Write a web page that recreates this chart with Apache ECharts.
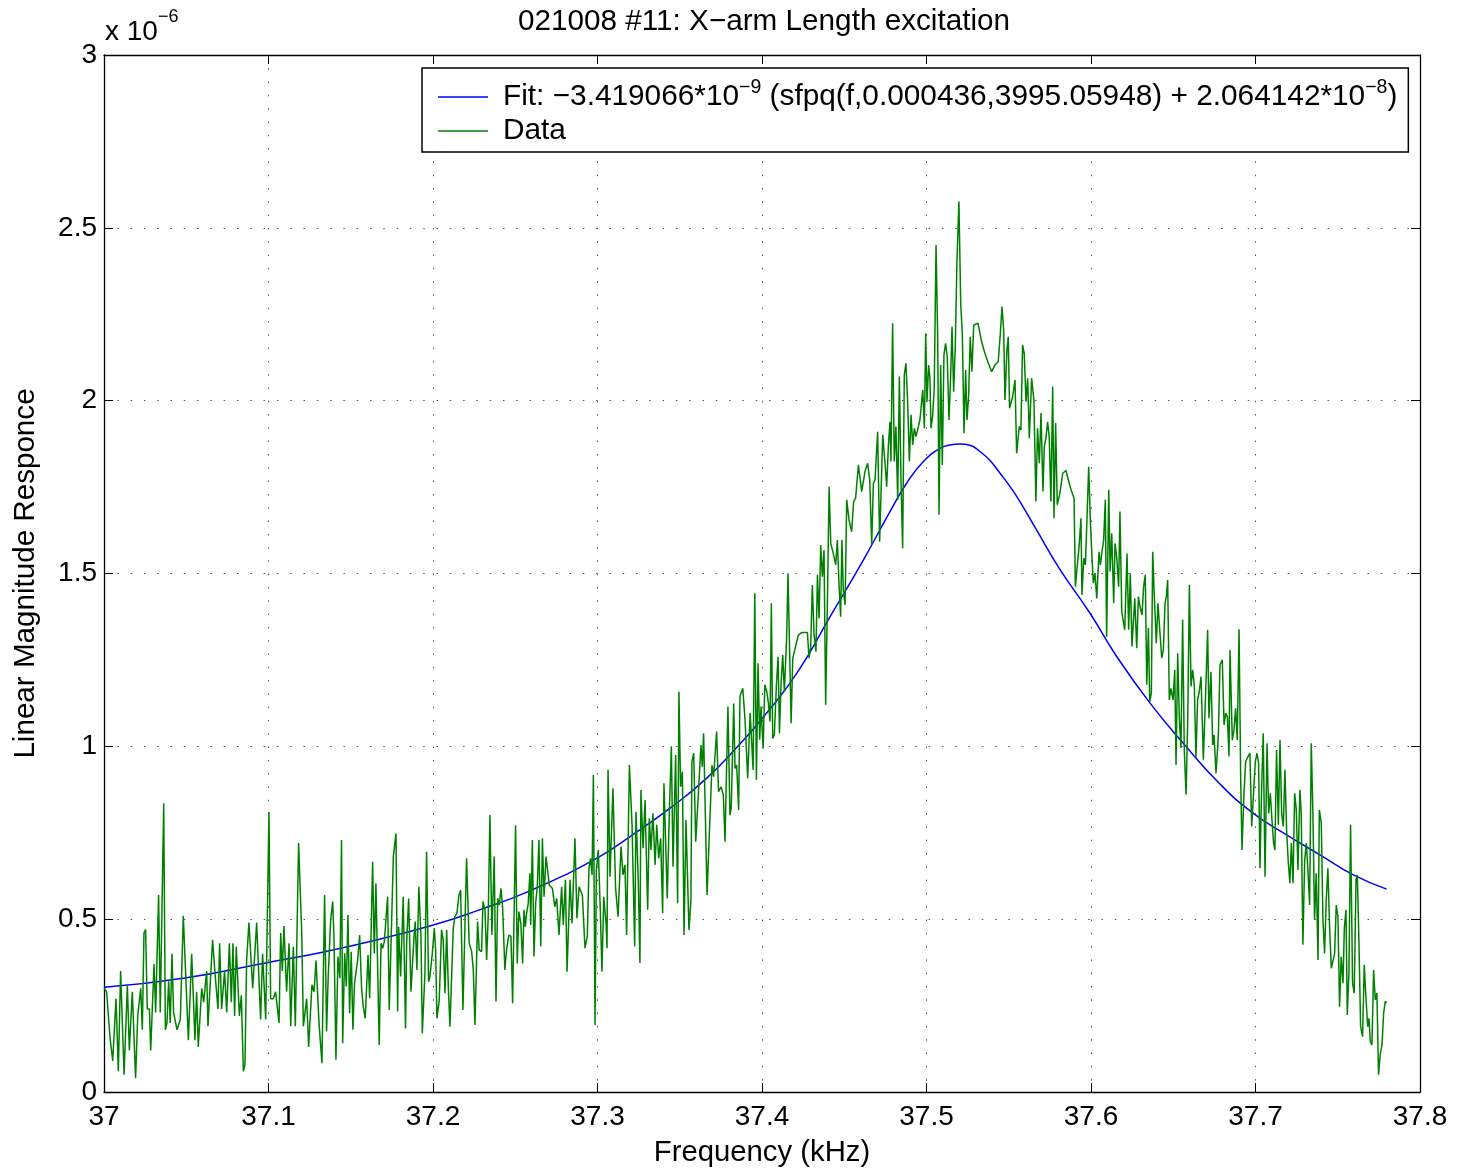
<!DOCTYPE html>
<html>
<head>
<meta charset="utf-8">
<title>021008 #11: X−arm Length excitation</title>
<script src="https://cdn.jsdelivr.net/npm/echarts@6/dist/echarts.min.js"></script>
<style>
  html, body { margin: 0; padding: 0; background: #fff; }
  #chart { width: 1459px; height: 1175px; }
</style>
</head>
<body>
<div id="chart"></div>
<script>
// Axis tick labels (x in kHz, y in units of 1e-6)
const xTickLabels = ['37', '37.1', '37.2', '37.3', '37.4', '37.5', '37.6', '37.7', '37.8'];
const yTickLabels = ['0', '0.5', '1', '1.5', '2', '2.5', '3'];

// Measured response: frequency (kHz) and linear magnitude (x 1e-6)
const dataFreq = [
  37.0000, 37.0016, 37.0036, 37.0053, 37.0073, 37.0087, 37.0101, 37.0113, 37.0122, 37.0142,
  37.0154, 37.0172, 37.0192, 37.0205, 37.0223, 37.0233, 37.0243, 37.0253, 37.0263, 37.0276,
  37.0284, 37.0304, 37.0314, 37.0332, 37.0342, 37.0363, 37.0373, 37.0383, 37.0393, 37.0403,
  37.0413, 37.0423, 37.0444, 37.0464, 37.0482, 37.0494, 37.0513, 37.0533, 37.0553, 37.0563,
  37.0573, 37.0594, 37.0606, 37.0624, 37.0632, 37.0660, 37.0677, 37.0693, 37.0703, 37.0715,
  37.0733, 37.0746, 37.0762, 37.0774, 37.0784, 37.0794, 37.0804, 37.0823, 37.0835, 37.0847,
  37.0857, 37.0867, 37.0881, 37.0904, 37.0928, 37.0952, 37.0964, 37.0983, 37.1003, 37.1013,
  37.1029, 37.1043, 37.1064, 37.1074, 37.1084, 37.1094, 37.1110, 37.1125, 37.1135, 37.1151,
  37.1163, 37.1183, 37.1202, 37.1212, 37.1232, 37.1244, 37.1264, 37.1277, 37.1289, 37.1307,
  37.1325, 37.1341, 37.1353, 37.1363, 37.1378, 37.1390, 37.1398, 37.1410, 37.1422, 37.1434,
  37.1444, 37.1451, 37.1463, 37.1473, 37.1483, 37.1493, 37.1503, 37.1513, 37.1523, 37.1542,
  37.1554, 37.1566, 37.1576, 37.1588, 37.1605, 37.1615, 37.1633, 37.1643, 37.1653, 37.1673,
  37.1684, 37.1694, 37.1704, 37.1714, 37.1724, 37.1734, 37.1746, 37.1759, 37.1775, 37.1785,
  37.1791, 37.1803, 37.1819, 37.1833, 37.1840, 37.1852, 37.1866, 37.1884, 37.1892, 37.1902,
  37.1914, 37.1927, 37.1935, 37.1951, 37.1961, 37.1973, 37.1981, 37.1996, 37.2008, 37.2016,
  37.2024, 37.2038, 37.2052, 37.2062, 37.2073, 37.2083, 37.2093, 37.2103, 37.2123, 37.2133,
  37.2145, 37.2158, 37.2168, 37.2182, 37.2192, 37.2204, 37.2220, 37.2235, 37.2245, 37.2255,
  37.2271, 37.2281, 37.2295, 37.2304, 37.2316, 37.2326, 37.2336, 37.2346, 37.2358, 37.2372,
  37.2383, 37.2393, 37.2403, 37.2413, 37.2423, 37.2437, 37.2447, 37.2461, 37.2474, 37.2484,
  37.2502, 37.2512, 37.2522, 37.2534, 37.2545, 37.2553, 37.2561, 37.2569, 37.2579, 37.2589,
  37.2594, 37.2604, 37.2614, 37.2624, 37.2634, 37.2644, 37.2655, 37.2665, 37.2675, 37.2687,
  37.2707, 37.2726, 37.2740, 37.2752, 37.2766, 37.2782, 37.2792, 37.2805, 37.2815, 37.2833,
  37.2845, 37.2863, 37.2875, 37.2888, 37.2908, 37.2924, 37.2938, 37.2948, 37.2958, 37.2967,
  37.2975, 37.2985, 37.2993, 37.3005, 37.3017, 37.3027, 37.3038, 37.3052, 37.3058, 37.3064,
  37.3076, 37.3094, 37.3110, 37.3125, 37.3143, 37.3155, 37.3167, 37.3177, 37.3194, 37.3210,
  37.3226, 37.3234, 37.3248, 37.3258, 37.3264, 37.3277, 37.3289, 37.3305, 37.3315, 37.3325,
  37.3337, 37.3350, 37.3360, 37.3372, 37.3384, 37.3396, 37.3404, 37.3424, 37.3437, 37.3449,
  37.3459, 37.3475, 37.3487, 37.3495, 37.3505, 37.3516, 37.3526, 37.3538, 37.3556, 37.3568,
  37.3574, 37.3585, 37.3597, 37.3609, 37.3629, 37.3637, 37.3645, 37.3666, 37.3680, 37.3696,
  37.3706, 37.3724, 37.3736, 37.3751, 37.3765, 37.3775, 37.3793, 37.3805, 37.3813, 37.3828,
  37.3836, 37.3846, 37.3858, 37.3866,
  37.3883, 37.3897, 37.3913, 37.3928, 37.3936, 37.3946, 37.3956, 37.3966, 37.3976, 37.3986,
  37.3994, 37.4007, 37.4017, 37.4029, 37.4039, 37.4049, 37.4057, 37.4065, 37.4075, 37.4088,
  37.4098, 37.4106, 37.4116, 37.4126, 37.4136, 37.4150, 37.4158, 37.4166, 37.4177, 37.4187,
  37.4197, 37.4221, 37.4241, 37.4276, 37.4286, 37.4296, 37.4306, 37.4316, 37.4328, 37.4337,
  37.4347, 37.4357, 37.4367, 37.4377, 37.4387, 37.4397, 37.4408, 37.4418, 37.4428, 37.4438,
  37.4448, 37.4458, 37.4468, 37.4478, 37.4486, 37.4494, 37.4505, 37.4515,
  37.4529, 37.4545, 37.4557, 37.4569, 37.4586, 37.4606, 37.4626, 37.4642, 37.4655, 37.4667,
  37.4677, 37.4687, 37.4703, 37.4715, 37.4734, 37.4748, 37.4758, 37.4768,
  37.4778, 37.4784, 37.4794, 37.4804, 37.4814, 37.4825, 37.4835, 37.4845, 37.4855, 37.4865,
  37.4875, 37.4885, 37.4896, 37.4906, 37.4916, 37.4926, 37.4936, 37.4948, 37.4960, 37.4977,
  37.4987, 37.4995, 37.5003, 37.5013, 37.5021, 37.5027, 37.5037, 37.5047, 37.5058, 37.5068,
  37.5076, 37.5086, 37.5096, 37.5106, 37.5116, 37.5126, 37.5137, 37.5147, 37.5155, 37.5165,
  37.5175, 37.5185, 37.5197, 37.5208, 37.5218, 37.5228, 37.5238, 37.5246, 37.5256, 37.5266,
  37.5276, 37.5287, 37.5297, 37.5313, 37.5335, 37.5355, 37.5376, 37.5396, 37.5416, 37.5436,
  37.5449, 37.5459, 37.5469, 37.5477, 37.5489, 37.5497, 37.5505, 37.5524, 37.5538, 37.5548,
  37.5564, 37.5574, 37.5584, 37.5594, 37.5605, 37.5615, 37.5625, 37.5639, 37.5653, 37.5665,
  37.5675, 37.5686, 37.5696, 37.5708, 37.5716, 37.5726, 37.5736, 37.5746, 37.5756, 37.5767,
  37.5775, 37.5785, 37.5795, 37.5811,
  37.5828, 37.5848, 37.5862, 37.5879, 37.5897, 37.5905, 37.5917, 37.5929, 37.5939, 37.5945,
  37.5956, 37.5966, 37.5974, 37.5986, 37.5996, 37.6004, 37.6014, 37.6024, 37.6035, 37.6049,
  37.6057, 37.6067, 37.6077, 37.6087, 37.6095, 37.6108, 37.6116, 37.6126, 37.6138, 37.6146,
  37.6156, 37.6168, 37.6176, 37.6187, 37.6205, 37.6219, 37.6229, 37.6239, 37.6249, 37.6266,
  37.6278, 37.6288, 37.6298, 37.6310, 37.6320, 37.6330, 37.6339, 37.6349, 37.6357, 37.6367,
  37.6375, 37.6385, 37.6397, 37.6407, 37.6418, 37.6430, 37.6440, 37.6450, 37.6458, 37.6466,
  37.6476, 37.6486, 37.6499, 37.6509, 37.6517, 37.6527, 37.6537, 37.6547, 37.6557, 37.6567,
  37.6578, 37.6588, 37.6598, 37.6608, 37.6618, 37.6628, 37.6638, 37.6648, 37.6658, 37.6669,
  37.6683, 37.6699, 37.6709, 37.6717, 37.6729, 37.6740, 37.6748, 37.6760, 37.6774, 37.6784,
  37.6798, 37.6809, 37.6819, 37.6829, 37.6839, 37.6845,
  37.6859, 37.6869, 37.6879, 37.6889, 37.6900, 37.6910, 37.6918, 37.6930, 37.6940, 37.6954,
  37.6966, 37.6977, 37.6989, 37.6999, 37.7009, 37.7019, 37.7027, 37.7037, 37.7047, 37.7058,
  37.7070, 37.7080, 37.7090, 37.7100, 37.7110, 37.7118, 37.7128, 37.7139, 37.7149, 37.7159,
  37.7169, 37.7179, 37.7189, 37.7199, 37.7209, 37.7218, 37.7228, 37.7238, 37.7248, 37.7258,
  37.7270, 37.7278, 37.7288, 37.7299, 37.7309, 37.7319, 37.7329, 37.7339, 37.7349, 37.7359,
  37.7369, 37.7380, 37.7388, 37.7400, 37.7410, 37.7420, 37.7430, 37.7440, 37.7451, 37.7461,
  37.7473, 37.7481, 37.7491, 37.7501, 37.7511, 37.7521, 37.7532, 37.7540, 37.7550, 37.7558,
  37.7568, 37.7578, 37.7590, 37.7600, 37.7611, 37.7619, 37.7629, 37.7639, 37.7651, 37.7661,
  37.7671, 37.7682, 37.7690, 37.7698, 37.7708, 37.7718, 37.7728, 37.7738, 37.7748, 37.7759,
  37.7769, 37.7779, 37.7789, 37.7797
];
const dataMag = [
  0.30, 0.29, 0.16, 0.09, 0.27, 0.06, 0.35, 0.35, 0.05, 0.31,
  0.12, 0.29, 0.04, 0.22, 0.30, 0.18, 0.46, 0.47, 0.24, 0.24,
  0.12, 0.37, 0.23, 0.57, 0.23, 0.835, 0.18, 0.20, 0.32, 0.20,
  0.40, 0.23, 0.18, 0.21, 0.51, 0.37, 0.15, 0.40, 0.15, 0.29,
  0.13, 0.30, 0.26, 0.35, 0.19, 0.44, 0.33, 0.24, 0.43, 0.24,
  0.35, 0.23, 0.43, 0.26, 0.43, 0.22, 0.42, 0.22, 0.28, 0.06,
  0.08, 0.38, 0.49, 0.30, 0.49, 0.21, 0.40, 0.21, 0.81, 0.27,
  0.27, 0.29, 0.20, 0.46, 0.35, 0.48, 0.29, 0.43, 0.19, 0.42,
  0.19, 0.72, 0.46, 0.19, 0.27, 0.13, 0.31, 0.29, 0.38, 0.20,
  0.083, 0.570, 0.175, 0.334, 0.498, 0.551, 0.450, 0.093, 0.392, 0.329,
  0.729, 0.141, 0.401, 0.305, 0.512, 0.228, 0.406, 0.180, 0.315, 0.382,
  0.454, 0.300, 0.247, 0.213, 0.396, 0.271, 0.666, 0.401, 0.604, 0.136,
  0.430, 0.416, 0.435, 0.430, 0.565, 0.237, 0.233, 0.681, 0.748, 0.233,
  0.478, 0.334, 0.565, 0.184, 0.435, 0.560, 0.290, 0.445, 0.493, 0.353,
  0.594, 0.450, 0.170, 0.343, 0.695, 0.319, 0.334, 0.401, 0.474, 0.411,
  0.213, 0.266, 0.469, 0.440, 0.286, 0.469, 0.305, 0.189, 0.474, 0.507,
  0.517, 0.570, 0.584, 0.237, 0.435, 0.676, 0.430, 0.406, 0.353, 0.194,
  0.493, 0.411, 0.406, 0.551, 0.527, 0.382, 0.512, 0.801, 0.454, 0.681,
  0.262, 0.560, 0.541, 0.589, 0.536, 0.353, 0.411, 0.454, 0.450, 0.257,
  0.772, 0.372, 0.522, 0.488, 0.372, 0.527, 0.478, 0.517, 0.546, 0.633,
  0.483, 0.729, 0.392, 0.546, 0.594, 0.729, 0.421, 0.734, 0.565, 0.681,
  0.599, 0.589, 0.536, 0.560, 0.454, 0.594, 0.483, 0.614, 0.348, 0.614,
  0.488, 0.734, 0.503, 0.594, 0.570, 0.416, 0.450, 0.647, 0.676, 0.628,
  0.917, 0.194, 0.642, 0.700, 0.527, 0.348, 0.565, 0.488, 0.416, 0.932,
  0.623, 0.879, 0.589, 0.507, 0.710, 0.628, 0.657, 0.454, 0.946, 0.773,
  0.421, 0.811, 0.609, 0.373, 0.874, 0.705, 0.845, 0.527, 0.792, 0.700,
  0.806, 0.657, 0.773, 0.676, 0.734, 0.517, 0.893, 0.560, 0.816, 1.000,
  0.652, 0.975, 0.546, 1.158, 0.883, 0.927, 0.454, 0.787, 0.469, 0.556,
  0.956, 0.980, 0.724, 0.826, 1.004, 0.941, 1.038, 0.570, 0.748, 0.946,
  0.912, 1.043, 0.869, 0.883, 0.859, 0.724, 1.115, 0.801, 0.821, 1.124,
  0.936, 0.946, 0.816, 1.144,
  1.168, 1.076, 0.908, 1.096, 1.023, 0.932, 1.443, 0.903, 1.240, 1.019,
  1.115, 0.994, 1.178, 1.158, 1.125, 1.072, 1.414, 1.023, 1.033, 1.182,
  1.259, 1.038, 1.182, 1.264, 1.158, 1.317, 1.501, 1.501, 1.067, 1.255,
  1.255, 1.322, 1.329, 1.329, 1.255, 1.288, 1.467, 1.327, 1.274, 1.496,
  1.370, 1.582, 1.491, 1.568, 1.120, 1.399, 1.751, 1.587, 1.592, 1.549,
  1.525, 1.597, 1.472, 1.375, 1.597, 1.452, 1.409, 1.713,
  1.655, 1.621, 1.708, 1.718, 1.814, 1.737, 1.795, 1.819, 1.771, 1.583,
  1.761, 1.771, 1.910, 1.592, 1.901, 1.819, 1.751, 1.867,
  1.939, 1.824, 2.224, 1.824, 1.925, 1.713, 2.070, 1.771, 1.573, 2.074,
  2.108, 2.002, 1.824, 1.959, 1.872, 1.920, 1.896, 1.920, 1.944, 2.031,
  1.920, 2.195, 1.997, 2.103, 2.065, 1.920, 1.954, 2.036, 2.450, 2.185,
  1.670, 2.103, 1.814, 2.132, 2.166, 2.127, 1.944, 2.074, 2.214, 2.026,
  2.156, 2.402, 2.576, 2.282, 2.190, 1.906, 2.089, 1.944, 2.012, 2.185,
  2.084, 2.219, 2.214, 2.224, 2.171, 2.137, 2.108, 2.084, 2.103, 2.113,
  2.195, 2.272, 2.205, 2.002, 2.147, 2.185, 1.978, 2.012, 2.060, 1.848,
  1.925, 1.915, 2.161, 2.137, 1.997, 2.065, 1.891, 2.065, 2.002, 1.708,
  1.920, 1.819, 1.964, 1.737, 1.867, 1.891, 1.939, 1.896, 1.708, 2.041,
  1.660, 1.935, 1.699, 1.732,
  1.790, 1.798, 1.771, 1.742, 1.718, 1.462, 1.457, 1.587, 1.660, 1.438,
  1.544, 1.525, 1.636, 1.809, 1.655, 1.568, 1.472, 1.501, 1.428, 1.563,
  1.525, 1.563, 1.597, 1.713, 1.317, 1.742, 1.506, 1.616, 1.414, 1.587,
  1.549, 1.462, 1.679, 1.390, 1.337, 1.558, 1.337, 1.501, 1.289, 1.428,
  1.284, 1.433, 1.404, 1.380, 1.462, 1.496, 1.178, 1.342, 1.129, 1.154,
  1.563, 1.433, 1.298, 1.414, 1.337, 1.255, 1.279, 1.414, 1.433, 1.481,
  1.134, 1.168, 1.134, 1.221, 0.946, 1.269, 1.081, 0.995, 1.366, 0.990,
  0.860, 1.077, 1.467, 1.173, 1.221, 1.178, 0.966, 1.134, 1.158, 1.202,
  0.961, 1.183, 1.337, 1.081, 1.216, 1.004, 1.033, 0.922, 1.028, 1.236,
  1.250, 1.062, 1.096, 1.086, 0.971, 1.279,
  1.018, 1.047, 1.110, 1.018, 1.339, 0.903, 0.700, 0.864, 0.956, 0.970,
  0.980, 0.768, 0.874, 0.956, 0.980, 0.951, 0.647, 0.874, 1.038, 0.623,
  1.009, 0.806, 0.864, 0.787, 0.720, 0.700, 0.989, 0.773, 1.018, 0.806,
  0.768, 0.932, 0.758, 0.667, 0.604, 0.720, 0.604, 0.864, 0.816, 0.642,
  0.874, 0.806, 0.426, 0.671, 0.720, 0.638, 0.541, 1.009, 0.806, 0.498,
  0.633, 0.382, 0.816, 0.777, 0.498, 0.401, 0.556, 0.647, 0.469, 0.358,
  0.363, 0.401, 0.541, 0.507, 0.247, 0.392, 0.315, 0.474, 0.527, 0.223,
  0.344, 0.773, 0.315, 0.286, 0.614, 0.628, 0.430, 0.189, 0.160, 0.368,
  0.276, 0.189, 0.213, 0.146, 0.136, 0.353, 0.266, 0.286, 0.050, 0.112,
  0.136, 0.228, 0.262, 0.257
];

// Fitted resonance curve: frequency (kHz) and magnitude (x 1e-6)
const fitFreq = [
  37.0000, 37.0482, 37.0989, 37.1313, 37.1657, 37.2002, 37.2265, 37.2589, 37.2995, 37.3198,
  37.3441, 37.3664, 37.3866, 37.4002, 37.4211, 37.4414, 37.4616, 37.4778, 37.4879, 37.4981,
  37.5082, 37.5143, 37.5203, 37.5264, 37.5325, 37.5386, 37.5447, 37.5507, 37.5568, 37.5669,
  37.5811, 37.5994, 37.6156, 37.6359, 37.6561, 37.6784, 37.6987, 37.7189, 37.7392, 37.7595,
  37.7797
];
const fitMag = [
  0.303, 0.329, 0.374, 0.403, 0.440, 0.483, 0.524, 0.582, 0.676, 0.739,
  0.821, 0.908, 1.007, 1.081, 1.211, 1.375, 1.539, 1.679, 1.761, 1.824,
  1.862, 1.872, 1.875, 1.871, 1.853, 1.827, 1.790, 1.752, 1.708, 1.626,
  1.512, 1.385, 1.260, 1.125, 1.009, 0.891, 0.806, 0.744, 0.686, 0.628,
  0.587
];

const FONT = "'Liberation Sans', Arial, Helvetica, sans-serif";
const fitLegendText = 'Fit: \u22123.419066*10{sup|\u22129} (sfpq(f,0.000436,3995.05948) + 2.064142*10{sup|\u22128})';

const chart = echarts.init(document.getElementById('chart'), null, { renderer: 'canvas' });

const boxAxisLine = { show: true, onZero: false, lineStyle: { color: '#000', width: 1.3 } };
const inwardTick = { show: true, inside: true, length: 9, lineStyle: { color: '#000', width: 1 } };
const dottedGrid = { show: true, lineStyle: { color: '#555', width: 1, type: [1.5, 11.8] } };

chart.setOption({
  animation: false,
  backgroundColor: '#fff',
  grid: { left: 104, top: 55, width: 1316, height: 1037, containLabel: false },
  graphic: [
    {
      type: 'text', x: 764, y: 7,
      style: { text: '021008 #11: X\u2212arm Length excitation', font: '29.7px ' + FONT, fill: '#000', textAlign: 'center' }
    },
    {
      type: 'text', x: 105, y: 8,
      style: {
        text: '{b|x 10}{s|\u22126}',
        rich: {
          b: { fontFamily: FONT, fontSize: 28, fill: '#000', color: '#000', verticalAlign: 'bottom', lineHeight: 38 },
          s: { fontFamily: FONT, fontSize: 18, fill: '#000', color: '#000', verticalAlign: 'top', lineHeight: 18 }
        }
      }
    }
  ],
  legend: {
    orient: 'vertical',
    left: 422, top: 68,
    padding: [10, 11, 2, 16],
    icon: 'rect',
    itemWidth: 50, itemHeight: 1.5, itemGap: -4,
    backgroundColor: '#fff',
    borderColor: '#000', borderWidth: 1.5, borderRadius: 0,
    data: ['Fit', 'Data'],
    formatter: name => (name === 'Fit' ? fitLegendText : name),
    textStyle: {
      fontFamily: FONT, fontSize: 29.8, color: '#000', lineHeight: 38,
      padding: [0, 0, 0, 10],
      rich: {
        sup: { fontFamily: FONT, fontSize: 19.5, color: '#000', verticalAlign: 'top', lineHeight: 19 }
      }
    }
  },
  xAxis: [
    {
      type: 'value', min: 37, max: 37.8, interval: 0.1, position: 'bottom',
      name: 'Frequency (kHz)', nameLocation: 'middle', nameGap: 46,
      nameTextStyle: { fontFamily: FONT, fontSize: 29.3, color: '#000' },
      axisLine: boxAxisLine, axisTick: inwardTick, splitLine: dottedGrid,
      axisLabel: {
        margin: 11, fontFamily: FONT, fontSize: 28, color: '#000',
        formatter: v => xTickLabels[Math.round((v - 37) * 10)]
      }
    },
    {
      type: 'value', min: 37, max: 37.8, interval: 0.1, position: 'top',
      axisLine: boxAxisLine, axisTick: inwardTick,
      splitLine: { show: false }, axisLabel: { show: false }
    }
  ],
  yAxis: [
    {
      type: 'value', min: 0, max: 3, interval: 0.5, position: 'left',
      name: 'Linear Magnitude Responce', nameLocation: 'middle', nameGap: 63, nameRotate: 90,
      nameTextStyle: { fontFamily: FONT, fontSize: 29.6, color: '#000' },
      axisLine: boxAxisLine, axisTick: inwardTick, splitLine: dottedGrid,
      axisLabel: {
        margin: 7, fontFamily: FONT, fontSize: 28, color: '#000',
        formatter: v => yTickLabels[Math.round(v * 2)]
      }
    },
    {
      type: 'value', min: 0, max: 3, interval: 0.5, position: 'right',
      axisLine: boxAxisLine, axisTick: inwardTick,
      splitLine: { show: false }, axisLabel: { show: false }
    }
  ],
  series: [
    {
      name: 'Fit', type: 'line', xAxisIndex: 0, yAxisIndex: 0,
      data: fitFreq.map((f, i) => [f, fitMag[i]]),
      symbol: 'none', smooth: 0.5,
      lineStyle: { color: '#0000ff', width: 1.5 }, itemStyle: { color: '#0000ff' },
      z: 2
    },
    {
      name: 'Data', type: 'line', xAxisIndex: 0, yAxisIndex: 0,
      data: dataFreq.map((f, i) => [f, dataMag[i]]),
      symbol: 'none', sampling: null,
      lineStyle: { color: '#008000', width: 1.5 }, itemStyle: { color: '#008000' },
      z: 3
    }
  ]
});
</script>
</body>
</html>
